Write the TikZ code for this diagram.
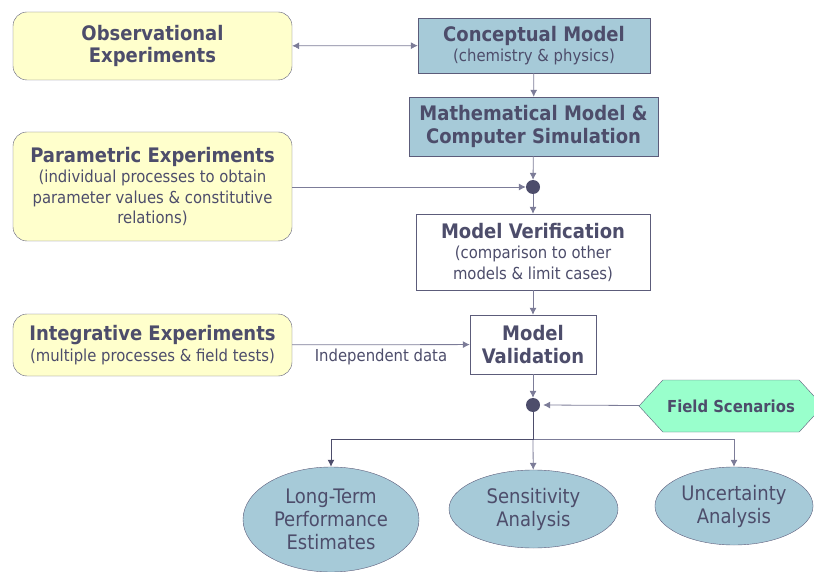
\documentclass[tikz,border=0pt]{standalone}
\usepackage{fontspec}
\setmainfont{DejaVu Sans Condensed}
\usepackage{xcolor}
\definecolor{Ink}{HTML}{4D4D6B}
\definecolor{Edge}{HTML}{5C5C7A}
\definecolor{Wire}{HTML}{7C7C98}
\definecolor{PaleYellow}{HTML}{FFFFCC}
\definecolor{SteelBlue}{HTML}{A6CAD8}
\definecolor{Mint}{HTML}{99FFCC}
\usetikzlibrary{arrows.meta,positioning,shapes.geometric,shapes.symbols}
\newcommand{\boxtitle}{\fontsize{20}{22.5}\selectfont\bfseries}
\newcommand{\boxnote}{\fontsize{16.5}{20.5}\selectfont}

\begin{document}
\begin{tikzpicture}[
  x=1pt,y=-1pt,
  >={Latex[length=7pt,width=7pt]},
  expt/.style={draw=Edge,fill=PaleYellow,rounded corners=14pt,minimum width=279pt,align=center,text=Ink},
  model/.style={draw=Edge,fill=SteelBlue,align=center,text=Ink},
  check/.style={draw=Edge,fill=white,align=center,text=Ink},
  result/.style={ellipse,draw=Edge,fill=SteelBlue,align=center,text=Ink,font=\fontsize{20}{23}\selectfont},
  joint/.style={circle,fill=Ink,inner sep=0pt,minimum size=14pt},
  link/.style={draw=Wire,line width=0.8pt},
  trunk/.style={draw=Ink,line width=1pt}
]
\useasboundingbox (0,0) rectangle (814,572);

% experiments on the left
\node[expt,minimum height=68pt,font=\boxtitle] (obs) at (152.5,46) {Observational\\Experiments};
\node[expt,minimum height=109pt,font=\boxnote] (param) at (152.5,186.5) {{\boxtitle Parametric Experiments}\\(individual processes to obtain\\parameter values \& constitutive\\relations)};
\node[expt,minimum height=62pt,font=\boxnote] (integ) at (152.5,345) {{\boxtitle Integrative Experiments}\\(multiple processes \& field tests)};

% modelling chain
\node[model,minimum width=232pt,minimum height=55pt,font=\boxnote] (concept) at (534,45.5) {{\boxtitle Conceptual Model}\\(chemistry \& physics)};
\node[model,minimum width=249pt,minimum height=59pt,font=\boxtitle] (math) at (533.5,126.5) {Mathematical Model \&\\Computer Simulation};
\node[joint] (dotA) at (533,187) {};
\node[check,minimum width=234pt,minimum height=76pt,font=\boxnote] (verif) at (533,252) {{\boxtitle Model Verification}\\(comparison to other\\models \& limit cases)};
\node[check,minimum width=126pt,minimum height=59pt,font=\boxtitle] (valid) at (533,344.5) {Model\\Validation};
\node[joint] (dotB) at (533,405) {};
\node[signal,signal to=west and east,signal pointer angle=95,draw=Edge,fill=Mint,text=Ink,
  minimum width=184pt,minimum height=52pt,font=\fontsize{16.5}{19}\selectfont\bfseries] (scen) at (731,406) {Field Scenarios};

% outcomes
\coordinate (fork) at (533,439);
\node[result,minimum width=176pt,minimum height=105pt] (longterm) at (331,519.5) {Long-Term\\Performance\\Estimates};
\node[result,minimum width=169pt,minimum height=78pt] (sens) at (533.5,509) {Sensitivity\\Analysis};
\node[result,minimum width=158pt,minimum height=78pt] (uncert) at (734,506) {Uncertainty\\Analysis};

\draw[link,<->] (obs) -- (concept);
\draw[link,->] (concept) -- (math);
\draw[link,->] (math) -- (dotA);
\draw[link,->] (param.east |- dotA) -- (dotA);
\draw[link,->] (dotA) -- (verif);
\draw[link,->] (verif) -- (valid);
\draw[link,->] (integ) -- node[below=1pt,text=Ink,font=\boxnote]{Independent data} (valid);
\draw[link,->] (valid) -- (dotB);
\draw[link,->] (scen) -- ([xshift=3pt]dotB.east);
\draw[link,->] (fork) -- (sens);
\draw[link,->] (fork) -| (uncert);
\draw[trunk,->] (dotB) -- (fork) -| (longterm);
\end{tikzpicture}
\end{document}
